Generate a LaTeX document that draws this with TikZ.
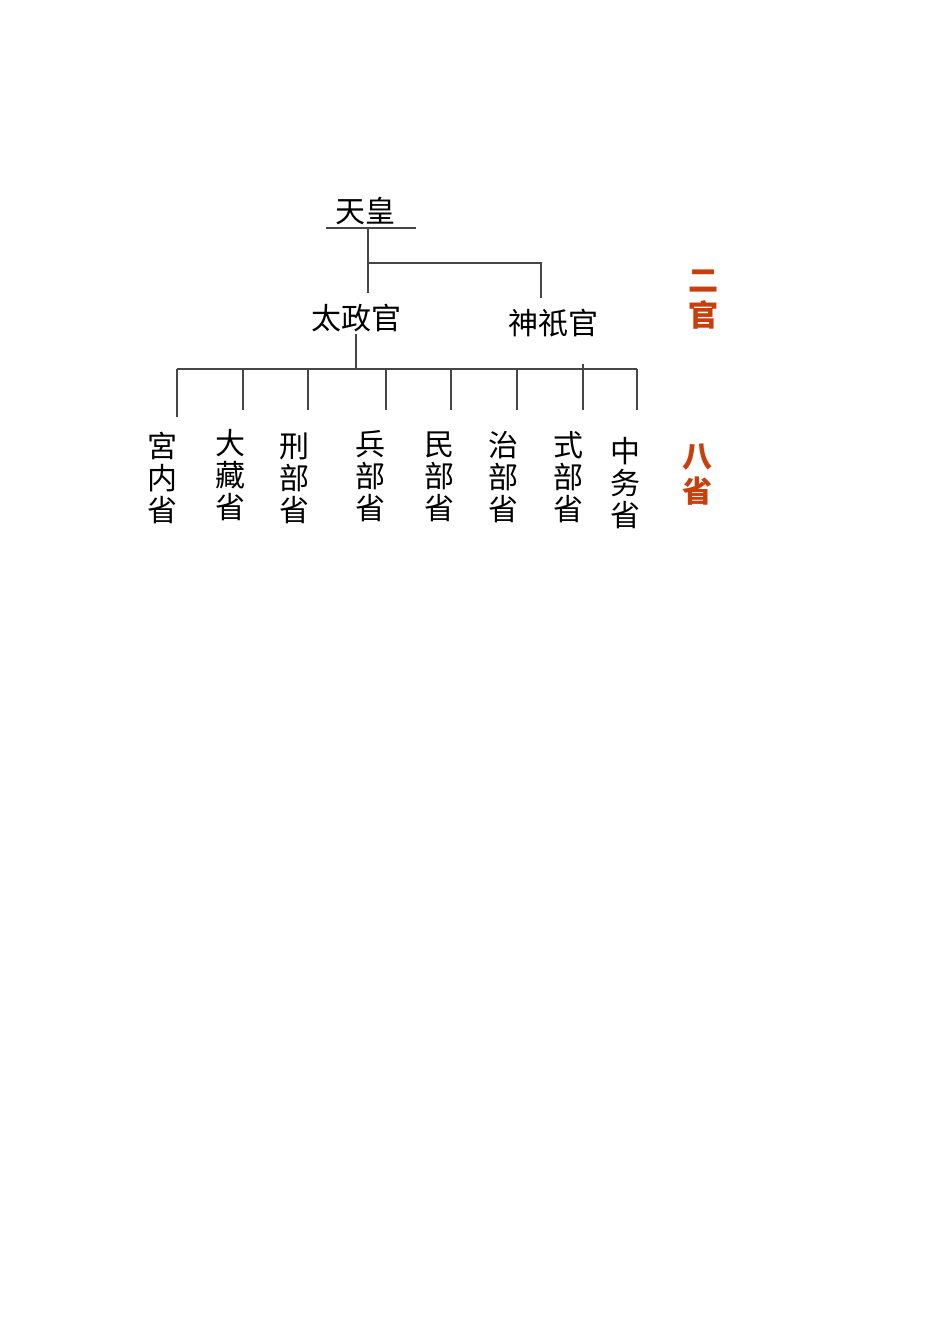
\documentclass[tikz,border=0pt]{standalone}
\usepackage{fontspec}
\newfontfamily\cjk{Noto Sans CJK SC}
\definecolor{redc}{RGB}{200,62,12}
\definecolor{linec}{RGB}{70,70,70}
\begin{document}
\begin{tikzpicture}[x=1pt,y=-1pt,
  conn/.style={draw=linec,line width=1.1pt},
  lbl/.style={font=\cjk\fontsize{30}{32}\selectfont,inner sep=0pt,text=black},
  vlbl/.style={lbl,align=center},
  redlbl/.style={font=\cjk\bfseries\fontsize{30}{35}\selectfont,inner sep=0pt,text=redc,align=center}]
\useasboundingbox[fill=white] (0,0) rectangle (950,1344);
% top
\node[lbl] (tenno) at (365,211) {天皇};
\coordinate (uL) at (326,228);
\coordinate (uR) at (416,228);
\coordinate (j0) at (368,228);
\coordinate (j1) at (368,263);
\coordinate (j2) at (541,263);
\node[lbl] (dajo) at (356,318) {太政官};
\node[lbl] (jingi) at (553,323) {神祇官};
\coordinate (dtop) at (368,293);
\coordinate (jtop) at (541,298);
\draw[conn] (uL) -- (uR);
\draw[conn] (j0) -- (dtop);
\draw[conn] (j1) -- (j2) -- (jtop);
% bar
\coordinate (dbot) at (356,334);
\coordinate (bar) at (356,369);
\coordinate (bL) at (177,369);
\coordinate (bR) at (637,369);
\draw[conn] (dbot) -- (bar);
\draw[conn] (bL) -- (bR);
% ministries
\node[vlbl] (m1) at (162,478) {宮\\内\\省};
\node[vlbl] (m2) at (230,475) {大\\藏\\省};
\node[vlbl] (m3) at (294,478) {刑\\部\\省};
\node[vlbl] (m4) at (370,476) {兵\\部\\省};
\node[vlbl] (m5) at (439,477) {民\\部\\省};
\node[vlbl] (m6) at (503,477) {治\\部\\省};
\node[vlbl] (m7) at (568,477) {式\\部\\省};
\node[vlbl] (m8) at (625,483) {中\\务\\省};
\coordinate (t1) at (177,369); \coordinate (e1) at (177,417);
\coordinate (t2) at (243,369); \coordinate (e2) at (243,410);
\coordinate (t3) at (308,369); \coordinate (e3) at (308,410);
\coordinate (t4) at (386,369); \coordinate (e4) at (386,410);
\coordinate (t5) at (451,369); \coordinate (e5) at (451,410);
\coordinate (t6) at (517,369); \coordinate (e6) at (517,410);
\coordinate (t7) at (583,364); \coordinate (e7) at (583,410);
\coordinate (t8) at (637,369); \coordinate (e8) at (637,410);
\foreach \i in {1,...,8} {\draw[conn] (t\i) -- (e\i);}
% red labels
\node[redlbl] (erkan) at (703,300) {二\\官};
\node[redlbl] (basheng) at (697,475) {八\\省};
\end{tikzpicture}
\end{document}
